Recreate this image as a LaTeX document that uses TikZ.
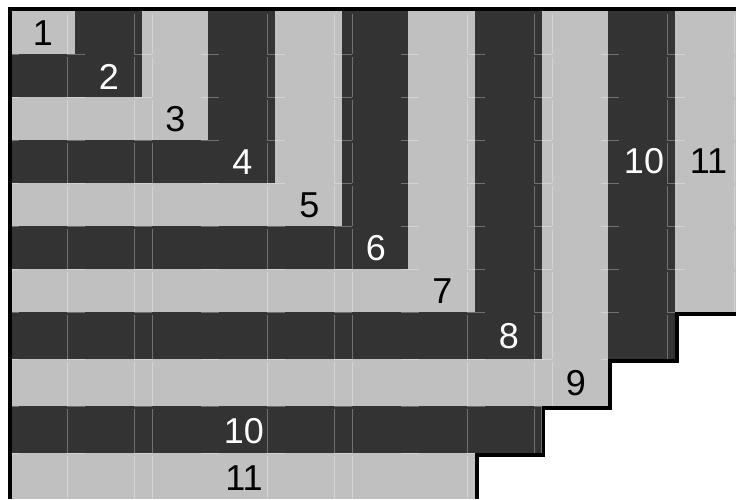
\documentclass[tikz,border=0pt]{standalone}
\usepackage{fontspec}
\setmainfont{Liberation Sans}
\usepackage{tikz}
\definecolor{bandlight}{HTML}{C0C0C0}
\definecolor{banddark}{HTML}{333333}

\begin{document}
\begin{tikzpicture}[x=1pt, y=-1pt,
		num/.style={font=\fontsize{36}{40}\selectfont, inner sep=0pt},
		faint/.style={white, opacity=0.3, line width=0.7pt},
		rim/.style={black, line width=3.6pt}]
	\useasboundingbox (0,0) rectangle (736,499);
	\begin{scope}
		% 阶梯形区域
		\clip (12,11) -- (736,11) -- (736,312) -- (675,312) -- (675,359) -- (608.3,359)
			-- (608.3,406) -- (541.7,406) -- (541.7,453) -- (475,453) -- (475,499) -- (12,499) -- cycle;
		% 由大到小的矩形叠成L形
		\foreach \k/\xr/\yb in {11/736/499, 10/675/453, 9/608.3/406, 8/541.7/359, 7/475/312,
			6/408.3/269, 5/341.7/226, 4/275/183, 3/208.3/140, 2/141.7/97, 1/75/54}{
			\ifodd\k\relax \fill[bandlight] (12,11) rectangle (\xr,\yb);
			\else \fill[banddark] (12,11) rectangle (\xr,\yb); \fi
		}
		% 淡网格线
		\foreach \yt/\yb in {11/54, 54/97, 97/140, 140/183, 183/226, 226/269, 269/312,
			312/359, 359/406, 406/453, 453/499}{
			\foreach \x in {67.3,134.3,152.3,267.3,334.3,352.3,467.3,534.3,552.3,667.3,734.8}
				\draw[faint] (\x,\yt+3) -- (\x,\yb);
			\foreach \j in {0,...,10}
				\draw[faint] (0.7+66.67*\j,\yb) -- (18.7+66.67*\j,\yb);
		}
	\end{scope}
	% 边框
	\draw[rim] (736,9) -- (10,9) -- (10,499);
	\draw[rim] (736,313.8) -- (676.8,313.8) -- (676.8,360.8) -- (610.1,360.8) -- (610.1,407.8)
		-- (543.5,407.8) -- (543.5,454.8) -- (476.8,454.8) -- (476.8,499);
	% 编号
	\foreach \k/\x/\y in {1/43/33.5, 2/108.8/76.5, 3/175.5/119.5, 4/242.5/162.5, 5/309.5/205.5,
		6/376/248.5, 7/442.5/291.5, 8/509/336.5, 9/576/383.5}{
		\ifodd\k\relax \def\numcol{black}\else \def\numcol{white}\fi
		\node[num, text=\numcol] (n\k) at (\x,\y) {\k};
	}
	\node[num, text=white] (n10a) at (644,161.5) {10};
	\node[num, text=black] (n11a) at (708.5,161.5) {11};
	\node[num, text=white] (n10b) at (244,431.5) {10};
	\node[num, text=black] (n11b) at (244,478.5) {11};
\end{tikzpicture}
\end{document}
